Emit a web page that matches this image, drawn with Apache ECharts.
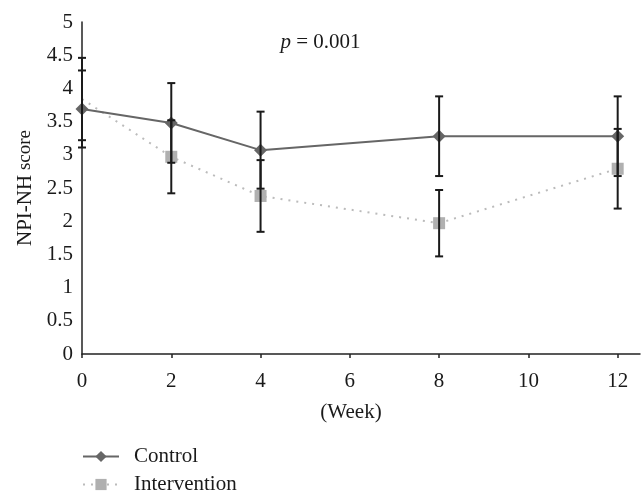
<!DOCTYPE html>
<html>
<head>
<meta charset="utf-8">
<script src="https://cdn.jsdelivr.net/npm/echarts@6/dist/echarts.min.js"></script>
<style>
html,body{margin:0;padding:0;background:#fff;}
#chart{width:641px;height:504px;}
</style>
</head>
<body>
<div id="chart"></div>
<script>
const weeks = [0, 2, 4, 8, 12];
const controlMean = [3.69, 3.48, 3.07, 3.28, 3.28];
const controlErr = [0.58, 0.60, 0.58, 0.60, 0.60];
const interventionMean = [3.84, 2.97, 2.38, 1.97, 2.79];
const interventionErr = [0.62, 0.55, 0.54, 0.50, 0.60];
const xTicks = [0, 2, 4, 6, 8, 10, 12];
const seriesNames = ['Control', 'Intervention'];

const FONT = 'Liberation Serif';
const TXT = '#1a1a1a';

function errData(means, errs) {
  return weeks.map((w, i) => [w, means[i] - errs[i], means[i] + errs[i]]);
}
function errRender(params, api) {
  const x = api.value(0);
  const lo = api.coord([x, api.value(1)]);
  const hi = api.coord([x, api.value(2)]);
  const cw = 4;
  const st = { stroke: '#1a1a1a', lineWidth: 2 };
  return {
    type: 'group',
    children: [
      { type: 'line', shape: { x1: hi[0], y1: hi[1], x2: lo[0], y2: lo[1] }, style: st },
      { type: 'line', shape: { x1: hi[0] - cw, y1: hi[1], x2: hi[0] + cw, y2: hi[1] }, style: st },
      { type: 'line', shape: { x1: lo[0] - cw, y1: lo[1], x2: lo[0] + cw, y2: lo[1] }, style: st }
    ]
  };
}

const controlData = weeks.map((w, i) => [w, controlMean[i]]);
const interventionData = weeks.map((w, i) => {
  const item = { value: [w, interventionMean[i]] };
  if (i === 0) item.symbolSize = 0;
  return item;
});

const chart = echarts.init(document.getElementById('chart'), null, { renderer: 'canvas' });
chart.setOption({
  animation: false,
  backgroundColor: '#fff',
  textStyle: { fontFamily: FONT, color: TXT },
  title: {
    text: '{i|p} = 0.001',
    left: 'center',
    top: 27,
    textStyle: {
      fontFamily: FONT, fontSize: 21, fontWeight: 'normal', color: TXT,
      rich: { i: { fontFamily: FONT, fontSize: 21, fontStyle: 'italic', color: TXT } }
    }
  },
  grid: { left: 82, top: 22, right: 1, bottom: 150, containLabel: false },
  legend: {
    data: seriesNames,
    orient: 'vertical',
    left: 82,
    top: 446,
    padding: 0,
    itemWidth: 36,
    itemHeight: 14,
    itemGap: 7,
    textStyle: { fontFamily: FONT, fontSize: 21, color: TXT, padding: [0, 0, 0, 10] }
  },
  xAxis: {
    type: 'value',
    min: 0,
    max: 12.5,
    interval: 2,
    name: '(Week)',
    nameLocation: 'middle',
    nameGap: 48,
    nameTextStyle: { fontFamily: FONT, fontSize: 21, color: TXT, padding: [0, 20, 0, 0] },
    axisLine: { show: true, lineStyle: { color: '#222', width: 1.5 } },
    axisTick: { show: true, length: 4, inside: false, customValues: xTicks, lineStyle: { color: '#222', width: 1.5 } },
    axisLabel: { fontFamily: FONT, fontSize: 21, color: TXT, margin: 17, customValues: xTicks },
    splitLine: { show: false }
  },
  yAxis: {
    type: 'value',
    min: 0,
    max: 5,
    interval: 0.5,
    name: '{a|NPI-NH}{b| score}',
    nameLocation: 'middle',
    nameGap: 42,
    nameRotate: 90,
    nameTextStyle: {
      rich: {
        a: { fontFamily: FONT, fontSize: 21, color: TXT },
        b: { fontFamily: FONT, fontSize: 19, color: TXT }
      }
    },
    axisLine: { show: true, lineStyle: { color: '#222', width: 1.5 } },
    axisTick: { show: false },
    axisLabel: { fontFamily: FONT, fontSize: 21, color: TXT, margin: 9 },
    splitLine: { show: false }
  },
  series: [
    {
      name: 'Intervention',
      type: 'line',
      data: interventionData,
      symbol: 'rect',
      symbolSize: 12,
      itemStyle: { color: '#b0b0b0' },
      lineStyle: { color: '#bbbbbb', width: 2, type: [2, 6] },
      z: 2
    },
    {
      name: 'Control',
      type: 'line',
      data: controlData,
      symbol: 'diamond',
      symbolSize: 13,
      itemStyle: { color: '#666' },
      lineStyle: { color: '#666', width: 2 },
      z: 3
    },
    {
      name: 'ctrlErr',
      type: 'custom',
      data: errData(controlMean, controlErr),
      renderItem: errRender,
      clip: false,
      z: 4
    },
    {
      name: 'intErr',
      type: 'custom',
      data: errData(interventionMean, interventionErr),
      renderItem: errRender,
      clip: false,
      z: 4
    }
  ]
});
</script>
</body>
</html>
